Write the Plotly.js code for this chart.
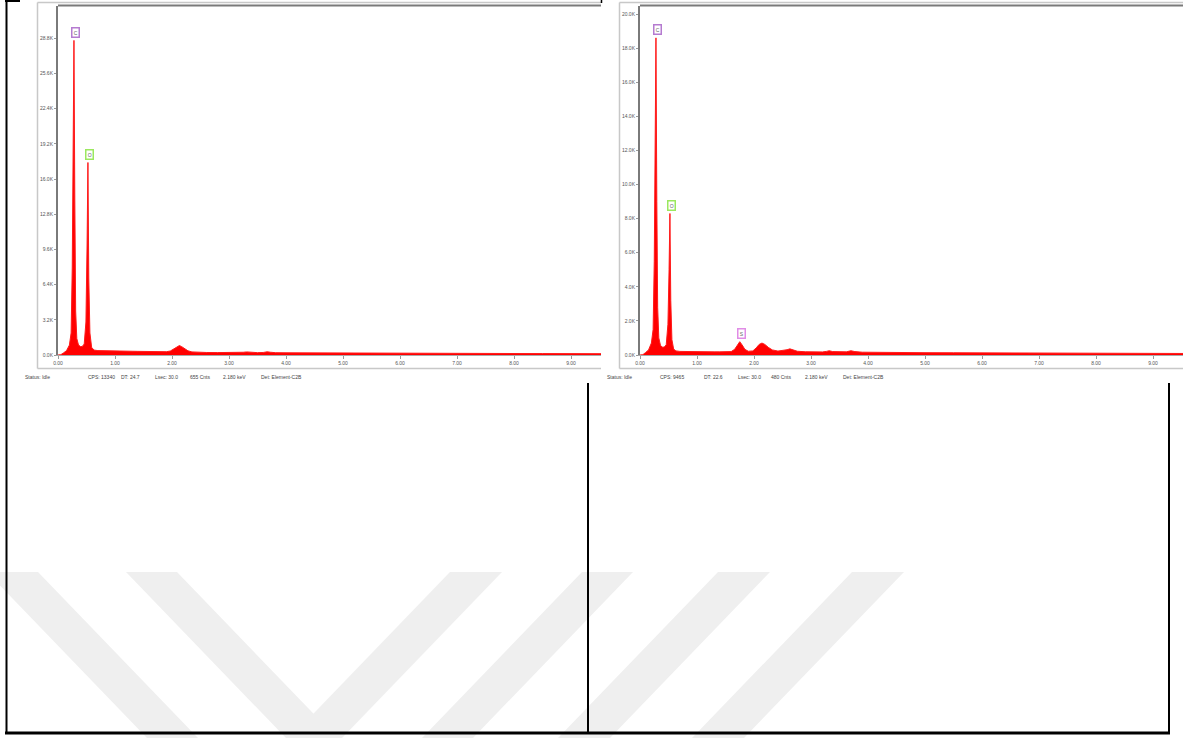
<!DOCTYPE html>
<html>
<head>
<meta charset="utf-8">
<script src="https://cdn.plot.ly/plotly-3.0.1.min.js"></script>
<style>
html,body{margin:0;padding:0;background:#fff;}
#chart{width:1195px;height:738px;}
</style>
</head>
<body>
<div id="chart"></div>
<script>
// ---- Data (energy in keV, intensity in counts) ----
const energy_L = [0.00,0.05,0.10,0.15,0.20,0.23,0.25,0.265,0.28,0.295,0.31,0.33,0.36,0.40,0.43,0.46,0.49,0.51,0.525,0.54,0.56,0.59,0.63,0.70,0.80,0.90,1.00,1.10,1.20,1.30,1.40,1.50,1.60,1.70,1.80,1.90,1.97,2.03,2.08,2.13,2.17,2.22,2.28,2.35,2.45,2.60,2.80,3.00,3.15,3.25,3.31,3.37,3.50,3.60,3.67,3.73,3.82,4.00,4.50,5.00,5.50,6.00,6.50,7.00,7.50,8.00,8.50,9.00,9.53];
const counts_L = [0,30,200,400,900,2000,8000,20000,28600,14000,4000,1500,900,750,800,1000,3000,10000,17500,7000,2000,700,450,400,380,370,360,350,350,340,330,320,310,300,290,300,360,550,750,860,760,560,380,280,240,230,220,215,220,250,280,240,215,230,290,250,210,200,185,175,165,155,150,145,140,135,130,125,120];

const energy_R = [0.00,0.05,0.10,0.15,0.20,0.23,0.25,0.265,0.28,0.295,0.31,0.33,0.36,0.40,0.43,0.46,0.49,0.51,0.525,0.54,0.56,0.59,0.63,0.70,0.80,0.90,1.00,1.10,1.20,1.30,1.40,1.50,1.60,1.66,1.71,1.75,1.79,1.84,1.90,1.98,2.04,2.09,2.14,2.19,2.25,2.32,2.42,2.52,2.58,2.63,2.68,2.76,2.90,3.05,3.20,3.27,3.32,3.38,3.50,3.62,3.70,3.77,3.90,4.10,4.50,5.00,5.50,6.00,6.50,7.00,7.50,8.00,8.50,9.00,9.53];
const counts_R = [0,20,150,300,700,1500,5500,13000,18600,9000,2800,1000,550,450,480,600,1800,5000,8300,3200,900,350,240,210,200,190,185,185,185,185,185,190,200,330,600,780,600,330,220,240,420,620,700,620,450,300,230,260,310,360,300,220,190,180,180,210,250,200,175,185,250,200,165,155,145,135,130,125,120,115,110,105,100,95,90];

const elements_L = ['C','O'];
const elementE_L = [0.28, 0.525];
const elements_R = ['C','O','S'];
const elementE_R = [0.28, 0.525, 1.75];
const elementColors = {C:'#b57bd0', O:'#9be85f', S:'#e08ce6'};

const xTickVals = [0,1,2,3,4,5,6,7,8,9];
const xTickText = ['0.00','1.00','2.00','3.00','4.00','5.00','6.00','7.00','8.00','9.00'];
const yTickVals_L = [0,3200,6400,9600,12800,16000,19200,22400,25600,28800];
const yTickText_L = ['0.0K','3.2K','6.4K','9.6K','12.8K','16.0K','19.2K','22.4K','25.6K','28.8K'];
const yTickVals_R = [0,2000,4000,6000,8000,10000,12000,14000,16000,18000,20000];
const yTickText_R = ['0.0K','2.0K','4.0K','6.0K','8.0K','10.0K','12.0K','14.0K','16.0K','18.0K','20.0K'];

const status_L = ['Status: Idle','CPS: 13340','DT: 24.7','Lsec: 30.0','655 Cnts','2.180 keV','Det: Element-C2B'];
const status_R = ['Status: Idle','CPS: 9465','DT: 22.6','Lsec: 30.0','480 Cnts','2.180 keV','Det: Element-C2B'];

// ---- layout helpers (pixel geometry of the page) ----
const W = 1195, H = 738;
const FONT = 'Arial, "Liberation Sans", sans-serif';
const yBot = 355, yTop = 6;
const pxLeft_L = 58, pxRight_L = 601, pxLeft_R = 640, pxRight_R = 1183;
const keVperPx = 1/57;

function specTrace(x, y, xa, ya){
  return {type:'scatter', mode:'lines', x:x, y:y, xaxis:xa, yaxis:ya,
    fill:'tozeroy', fillcolor:'#ff0000', line:{color:'#ff1a1a', width:1},
    hoverinfo:'skip', showlegend:false};
}
const traces = [
  specTrace(energy_L, counts_L, 'x', 'y'),
  specTrace(energy_R, counts_R, 'x2', 'y2'),
  {type:'scatter', x:[], y:[], xaxis:'x3', yaxis:'y3', showlegend:false, hoverinfo:'skip'}
];

function xAxis(l, r){
  return {domain:[l/W, r/W], range:[0, (r-l)*keVperPx], tickvals:xTickVals, ticktext:xTickText,
    tickfont:{size:5, color:'#555', family:FONT}, ticks:'outside', ticklen:3, tickcolor:'#999', tickwidth:1,
    showline:true, linecolor:'#aaa', linewidth:1, showgrid:false, zeroline:false, fixedrange:true};
}
function yAxis(top, vals, text){
  return {domain:[1-yBot/H, 1-yTop/H], range:[0, top], tickvals:vals, ticktext:text,
    tickfont:{size:5, color:'#555', family:FONT}, ticks:'outside', ticklen:2, tickcolor:'#999', tickwidth:1,
    showline:true, linecolor:'#7a7a7a', linewidth:2, showgrid:false, zeroline:false, fixedrange:true};
}

const annotations = [];
function addLabels(els, es, xs, ys, xa, ya){
  els.forEach((el, i) => {
    const idx = xs.indexOf(es[i]);
    annotations.push({xref:xa, yref:ya, x:es[i], y:ys[idx], text:el, showarrow:false,
      yanchor:'middle', xanchor:'center', yshift:8, xshift:2,
      font:{size:5, color:'#666', family:FONT}, bgcolor:'#fff',
      bordercolor:elementColors[el], borderwidth:1.5, borderpad:1.2});
  });
}
addLabels(elements_L, elementE_L, energy_L, counts_L, 'x', 'y');
addLabels(elements_R, elementE_R, energy_R, counts_R, 'x2', 'y2');

const statusX_L = [23, 86, 119, 153, 188, 221, 259];
const statusX_R = [605, 658, 702, 736, 769, 803, 841];
function addStatus(items, xs){
  items.forEach((t, i) => annotations.push({xref:'x3', yref:'y3', x:xs[i], y:376.5, text:t,
    showarrow:false, xanchor:'left', yanchor:'middle', font:{size:5, color:'#444', family:FONT}}));
}
addStatus(status_L, statusX_L);
addStatus(status_R, statusX_R);

const shapes = [];
function line(x0,y0,x1,y1,color,w,layer){
  shapes.push({type:'line', xref:'x3', yref:'y3', x0:x0, y0:y0, x1:x1, y1:y1,
    line:{color:color, width:w}, layer:layer||'above'});
}
// watermark stripes (decoration)
const stripes = [
  [[-13,572],[38,572],[198,738],[147,738]],
  [[126,572],[177,572],[337,738],[286,738]],
  [[450,572],[502,572],[342,738],[290,738]],
  [[582,572],[633,572],[473,738],[422,738]],
  [[718,572],[770,572],[610,738],[558,738]],
  [[852,572],[904,572],[744,738],[692,738]]
];
stripes.forEach(p => shapes.push({type:'path', xref:'x3', yref:'y3', layer:'below',
  path:'M'+p.map(q=>q[0]+','+q[1]).join(' L')+' Z', fillcolor:'#efefef', line:{width:0}}));

// panel frames
[[37.5, 601], [619.5, 1183]].forEach(([l, r]) => {
  line(l, 2.5, r, 2.5, '#c8c8c8', 1.5);
  line(l, 2.5, l, 368.5, '#c8c8c8', 1.5);
  line(l, 368.5, r, 368.5, '#c8c8c8', 1.5);
});
line(58, 5.5, 601, 5.5, '#7a7a7a', 2);
line(640, 5.5, 1183, 5.5, '#7a7a7a', 2);

// page border lines
line(6.5, 0, 6.5, 733, '#000', 2);
line(5, 1, 20, 1, '#000', 2);
line(601.5, 0, 601.5, 3, '#000', 1.5);
line(588, 383, 588, 733, '#000', 2);
line(1169, 383, 1169, 733, '#000', 2);
line(5, 733, 1170, 733, '#000', 3);

const layout = {
  width:W, height:H, margin:{l:0, r:0, t:0, b:0, pad:0},
  paper_bgcolor:'#ffffff', plot_bgcolor:'rgba(0,0,0,0)', showlegend:false,
  font:{family:FONT},
  xaxis:Object.assign(xAxis(pxLeft_L, pxRight_L), {anchor:'y'}),
  yaxis:Object.assign(yAxis((yBot-yTop)/11.0*1000, yTickVals_L, yTickText_L), {anchor:'x'}),
  xaxis2:Object.assign(xAxis(pxLeft_R, pxRight_R), {anchor:'y2'}),
  yaxis2:Object.assign(yAxis((yBot-yTop)/17.05*1000, yTickVals_R, yTickText_R), {anchor:'x2'}),
  xaxis3:{domain:[0,1], range:[0,W], visible:false, anchor:'y3', fixedrange:true},
  yaxis3:{domain:[0,1], range:[H,0], visible:false, anchor:'x3', fixedrange:true},
  annotations:annotations, shapes:shapes
};
Plotly.newPlot('chart', traces, layout, {displayModeBar:false, staticPlot:true});
</script>
</body>
</html>
